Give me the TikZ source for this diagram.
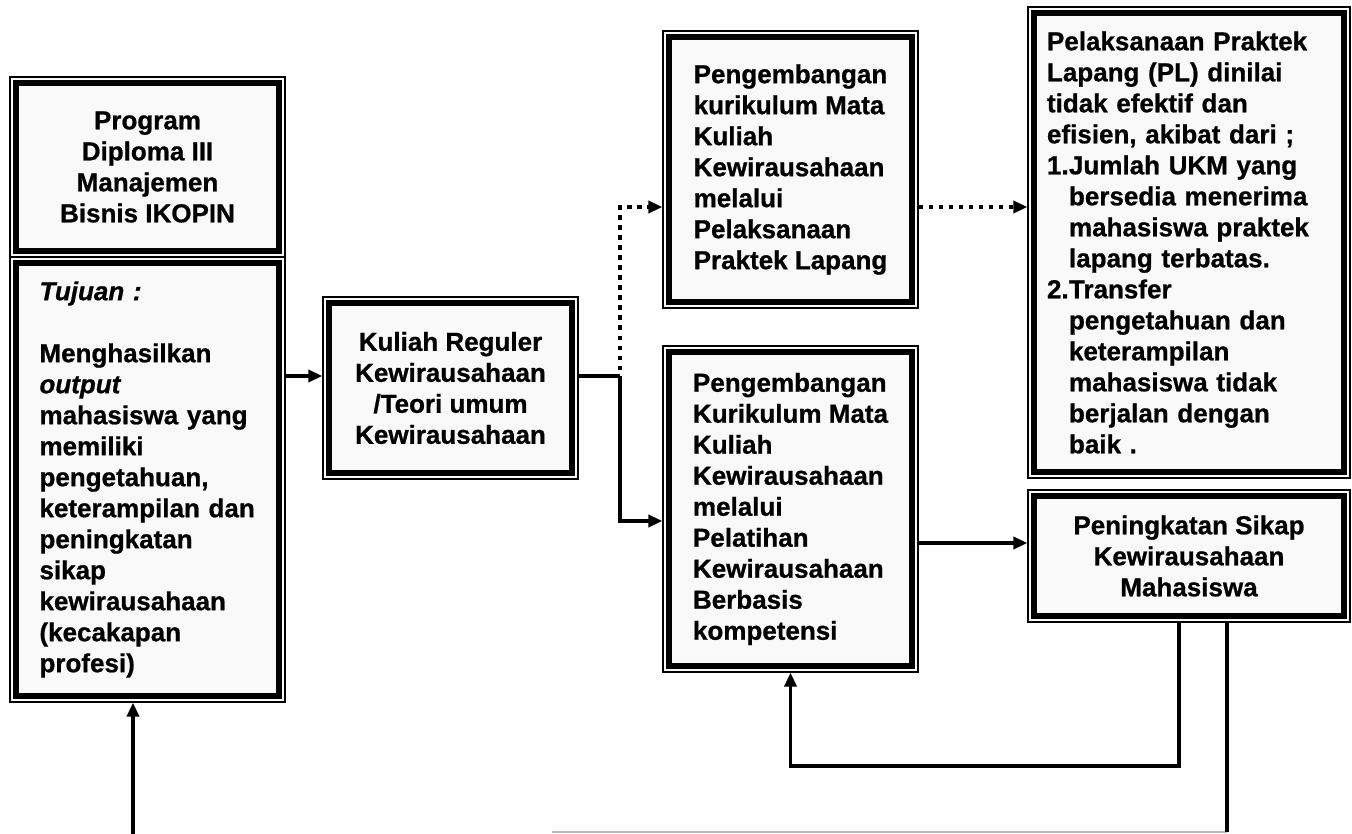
\documentclass[tikz,border=0pt]{standalone}
\usepackage{fontspec}
\setmainfont{Liberation Sans}[BoldFeatures={FakeBold=0.8},BoldItalicFeatures={FakeBold=0.8}]
\usetikzlibrary{arrows.meta}
\begin{document}
\begin{tikzpicture}[x=1pt,y=-1pt,
  box/.style={draw=black, line width=1.2pt, fill=gray!5, inner sep=0pt,
    font=\bfseries\fontsize{26pt}{31pt}\selectfont,
    path picture={\draw[line width=6.5pt,black]
      ([shift={(6pt,6pt)}]path picture bounding box.south west) rectangle
      ([shift={(-6pt,-6pt)}]path picture bounding box.north east);}},
  conn/.style={line width=3.5pt, line join=miter, -{Triangle[length=14pt,width=12pt]}},
  plainconn/.style={line width=3.5pt, line join=miter},
  dotconn/.style={conn, dash pattern=on 4.5pt off 5.5pt}]
\useasboundingbox (0,0) rectangle (1352,834);

\node[box, minimum width=275pt, minimum height=180pt, align=center] (prog) at (147.5,167)
  {Program\\Diploma III\\Manajemen\\Bisnis IKOPIN};
\node[box, minimum width=275pt, minimum height=445pt, text width=216pt, align=left] (tuj) at (147.5,479.5)
  {\textit{Tujuan :}\\[31pt]Menghasilkan\\\textit{output}\\mahasiswa yang\\memiliki\\pengetahuan,\\keterampilan dan\\peningkatan\\sikap\\kewirausahaan\\(kecakapan\\profesi)};
\node[box, minimum width=255pt, minimum height=182pt, align=center] (kul) at (450.5,388)
  {Kuliah Reguler\\Kewirausahaan\\/Teori umum\\Kewirausahaan};
\node[box, minimum width=255pt, minimum height=277pt, align=left] (pc) at (790.5,169.5)
  {Pengembangan\\kurikulum Mata\\Kuliah\\Kewirausahaan\\melalui\\Pelaksanaan\\Praktek Lapang};
\node[box, minimum width=255pt, minimum height=326pt, align=left] (pd) at (790.5,509)
  {Pengembangan\\Kurikulum Mata\\Kuliah\\Kewirausahaan\\melalui\\Pelatihan\\Kewirausahaan\\Berbasis\\kompetensi};
\node[box, minimum width=322pt, minimum height=471pt, text width=284pt, align=left] (pe) at (1189,242.5)
  {Pelaksanaan Praktek\\Lapang (PL) dinilai\\tidak efektif dan\\efisien, akibat dari ;\\
   \makebox[22pt][l]{1.}Jumlah UKM yang\\\hspace*{22pt}bersedia menerima\\\hspace*{22pt}mahasiswa praktek\\\hspace*{22pt}lapang terbatas.\\
   \makebox[22pt][l]{2.}Transfer\\\hspace*{22pt}pengetahuan dan\\\hspace*{22pt}keterampilan\\\hspace*{22pt}mahasiswa tidak\\\hspace*{22pt}berjalan dengan\\\hspace*{22pt}baik .};
\node[box, minimum width=322pt, minimum height=132pt, align=center] (pf) at (1189,556)
  {Peningkatan Sikap\\Kewirausahaan\\Mahasiswa};

\coordinate (r1) at (0,376);
\coordinate (j) at (620,376);
\coordinate (r2) at (0,521);
\coordinate (r3) at (0,207);
\coordinate (r4) at (0,543);
\coordinate (lp) at (1179,766);
\coordinate (bp) at (1227,832);
\coordinate (bl) at (552,832);
\coordinate (ba) at (133,834);

\draw[conn] (tuj.east |- r1) -- (kul.west |- r1);
\draw[plainconn] (kul.east |- r1) -- (j);
\draw[conn] (j) |- (pd.west |- r2);
\draw[dotconn] ([yshift=6pt]j) |- (pc.west |- r3);
\draw[dotconn] (pc.east |- r3) -- (pe.west |- r3);
\draw[conn] (pd.east |- r4) -- (pf.west |- r4);
\draw[conn] (pf.south -| lp) -- (lp) -| (pd.south);
\draw[gray!55, line width=2.5pt] (bp) -- (bl);
\draw[plainconn] (pf.south -| bp) -- (bp);
\draw[conn] (ba) -- (tuj.south -| ba);
\end{tikzpicture}
\end{document}
